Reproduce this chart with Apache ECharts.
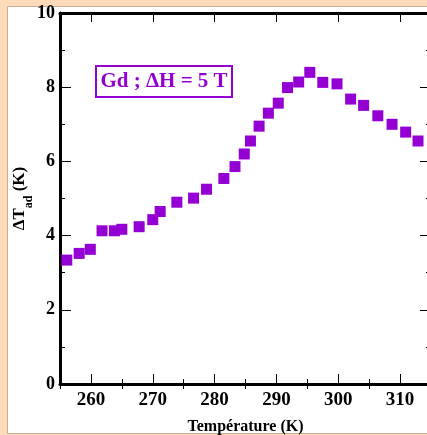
<!DOCTYPE html>
<html><head><meta charset="utf-8">
<script src="https://cdn.jsdelivr.net/npm/echarts@6/dist/echarts.min.js"></script>
<style>html,body{margin:0;padding:0;}#c{width:427px;height:435px;}</style>
</head><body><div id="c"></div>
<script>
const temperature = [256.1,258.1,259.9,261.8,263.8,265.0,267.8,270.0,271.2,273.9,276.6,278.7,281.5,283.3,284.8,285.8,287.2,288.7,290.3,291.8,293.6,295.4,297.5,299.8,302.0,304.1,306.4,308.7,310.9,312.9];
const deltaT = [3.34,3.52,3.63,4.13,4.13,4.17,4.24,4.43,4.65,4.90,5.01,5.25,5.54,5.86,6.20,6.55,6.95,7.30,7.57,7.99,8.14,8.40,8.13,8.09,7.68,7.51,7.23,7.00,6.79,6.55];
const xMajor = [260,270,280,290,300,310];
const xMinor = [255,265,275,285,295,305,315];
const legendText = 'Gd ; ΔH = 5 T';

const purple = '#9400D3';
const font = 'Liberation Serif';
const chart = echarts.init(document.getElementById('c'), null, {renderer:'canvas'});
const common = {type:'value', min:255, max:315, gridIndex:0};
chart.setOption({
  backgroundColor:'#FDDAB8',
  animation:false,
  graphic:[
    {type:'rect', z:-10, silent:true, shape:{x:7.5,y:6.5,width:430,height:427}, style:{fill:'#ffffff', stroke:'#C4AE98', lineWidth:1}},
    {type:'rect', z:100, shape:{x:96,y:66,width:136,height:31}, style:{fill:'#ffffff', stroke:purple, lineWidth:2}},
    {type:'text', z:101, x:164, y:82, style:{text:legendText, fill:purple, font:'bold 21px "Liberation Serif"', align:'center', verticalAlign:'middle'}}
  ],
  grid:{left:60, right:-4, top:13, bottom:51, outerBoundsMode:'none', containLabel:false},
  xAxis:[
    Object.assign({}, common, {position:'bottom',
      name:'Température (K)', nameLocation:'middle', nameGap:35, nameMoveOverlap:false,
      nameTextStyle:{fontFamily:font, fontWeight:'bold', fontSize:16, color:'#000'},
      axisLine:{show:true, onZero:false, lineStyle:{color:'#000', width:3}},
      axisTick:{show:true, inside:true, length:10, customValues:xMajor, lineStyle:{color:'#000', width:1}},
      axisLabel:{show:true, customValues:xMajor, margin:7, fontFamily:font, fontWeight:'bold', fontSize:19, color:'#000'},
      splitLine:{show:false}}),
    Object.assign({}, common, {position:'bottom',
      axisLine:{show:false},
      axisTick:{show:true, inside:true, length:5, customValues:xMinor, lineStyle:{color:'#000', width:1}},
      axisLabel:{show:false}, splitLine:{show:false}}),
    Object.assign({}, common, {position:'top',
      axisLine:{show:true, onZero:false, lineStyle:{color:'#000', width:3}},
      axisTick:{show:true, inside:true, length:9, customValues:xMajor, lineStyle:{color:'#000', width:1}},
      axisLabel:{show:false}, splitLine:{show:false}}),
    Object.assign({}, common, {position:'top',
      axisLine:{show:false},
      axisTick:{show:true, inside:true, length:5, customValues:xMinor, lineStyle:{color:'#000', width:1}},
      axisLabel:{show:false}, splitLine:{show:false}})
  ],
  yAxis:[
    {type:'value', min:0, max:10, interval:2, position:'left',
      name:'{m|ΔT}{s|ad}{m| (K)}', nameLocation:'middle', nameGap:30, nameMoveOverlap:false,
      nameTextStyle:{fontFamily:font, fontWeight:'bold', fontSize:17, color:'#000',
        rich:{m:{fontFamily:font, fontWeight:'bold', fontSize:17, color:'#000', lineHeight:20},
              s:{fontFamily:font, fontWeight:'bold', fontSize:12, color:'#000', verticalAlign:'bottom', padding:[0,0,-5,0], lineHeight:20}}},
      axisLine:{show:true, onZero:false, lineStyle:{color:'#000', width:3}},
      axisTick:{show:true, inside:true, length:11, lineStyle:{color:'#000', width:1}},
      minorTick:{show:true, splitNumber:2, length:5, lineStyle:{color:'#000', width:1}},
      axisLabel:{margin:5, fontFamily:font, fontWeight:'bold', fontSize:18, color:'#000'},
      splitLine:{show:false}, minorSplitLine:{show:false}},
    {type:'value', min:0, max:10, interval:2, position:'right',
      axisLine:{show:true, onZero:false, lineStyle:{color:'#000', width:3}},
      axisTick:{show:true, inside:true, length:11, lineStyle:{color:'#000', width:1}},
      minorTick:{show:true, splitNumber:2, length:5, lineStyle:{color:'#000', width:1}},
      axisLabel:{show:false}, splitLine:{show:false}, minorSplitLine:{show:false}}
  ],
  series:[{
    type:'scatter', xAxisIndex:0, yAxisIndex:0,
    symbol:'rect', symbolSize:11,
    itemStyle:{color:purple, opacity:1},
    data: temperature.map((t,i)=>[t, deltaT[i]])
  }]
});
</script></body></html>
